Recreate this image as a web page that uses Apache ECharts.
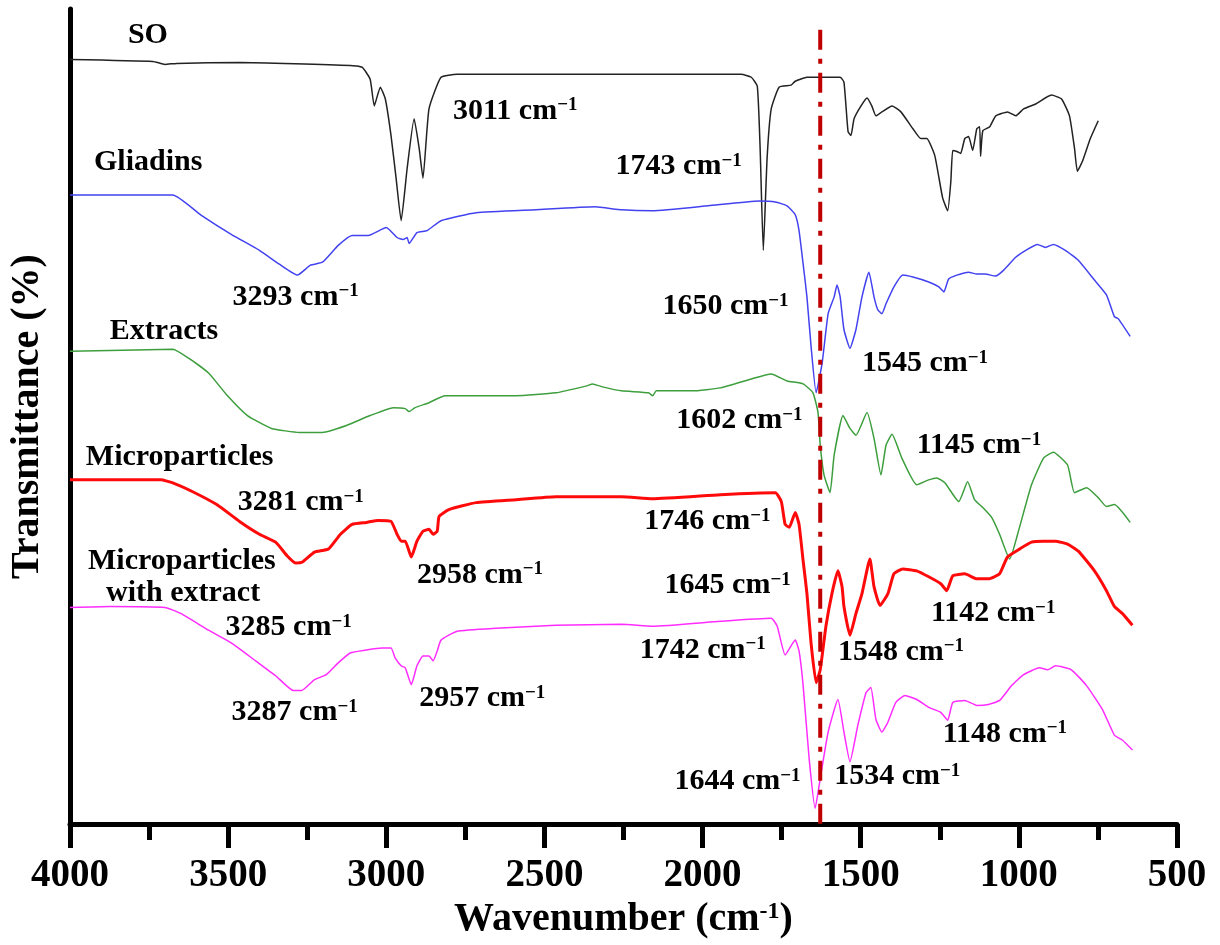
<!DOCTYPE html>
<html>
<head>
<meta charset="utf-8">
<title>FTIR spectra</title>
<script src="https://cdn.jsdelivr.net/npm/echarts@6/dist/echarts.min.js"></script>
<style>
    html, body { margin: 0; padding: 0; background: #fff; }
    #main { width: 1220px; height: 945px; }
</style>
</head>
<body>
<div id="main"></div>
<script>
// 波数 (cm-1) 与各条谱线的透过率 (任意单位, 已做纵向平移)
var soWn = [4000, 3738, 3700, 3663, 3464, 3114, 3076, 3051, 3038, 3019, 3003, 2985, 2969, 2953, 2934, 2912, 2896, 2884, 2865, 2827, 2776, 2477, 2161, 1878, 1846, 1827, 1818, 1808, 1796, 1783, 1758, 1720, 1707, 1670, 1565, 1553, 1540, 1531, 1521, 1499, 1480, 1465, 1452, 1433, 1401, 1373, 1335, 1310, 1291, 1266, 1241, 1225, 1215, 1209, 1196, 1184, 1171, 1159, 1146, 1133, 1124, 1121, 1114, 1092, 1073, 1036, 1010, 985, 947, 897, 865, 840, 824, 815, 799, 774, 749];
var soT = [773, 771, 768, 769, 770, 767, 765, 753, 726, 745, 733, 696, 653, 610, 663, 713, 683, 653, 723, 755, 758, 758, 758, 758, 755, 746, 683, 580, 673, 723, 745, 747, 751, 755, 755, 750, 700, 696, 713, 726, 734, 726, 716, 720, 726, 720, 703, 693, 693, 676, 633, 620, 650, 681, 680, 678, 693, 695, 681, 703, 705, 675, 701, 705, 716, 720, 716, 723, 728, 737, 733, 716, 683, 660, 670, 693, 711];

var glWn = [4000, 3675, 3587, 3489, 3401, 3338, 3281, 3240, 3202, 3152, 3108, 3057, 3000, 2966, 2947, 2934, 2928, 2903, 2871, 2827, 2716, 2527, 2341, 2256, 2158, 1982, 1821, 1770, 1733, 1707, 1695, 1682, 1670, 1657, 1641, 1622, 1603, 1584, 1575, 1565, 1553, 1534, 1515, 1496, 1474, 1458, 1446, 1433, 1420, 1395, 1367, 1335, 1285, 1253, 1237, 1222, 1196, 1159, 1133, 1108, 1073, 1048, 1010, 973, 941, 916, 891, 853, 812, 761, 723, 698, 686, 648];
var glT = [636, 636, 616, 596, 580, 566, 555, 565, 568, 585, 595, 595, 603, 593, 591, 593, 587, 598, 600, 610, 618, 621, 624, 621, 620, 625, 630, 629, 625, 616, 600, 566, 533, 483, 436, 466, 516, 533, 545, 533, 500, 481, 500, 533, 558, 533, 520, 516, 526, 543, 555, 553, 548, 543, 538, 551, 555, 558, 556, 556, 554, 560, 573, 581, 586, 583, 586, 580, 570, 550, 535, 513, 511, 493];

var exWn = [4000, 3675, 3625, 3562, 3502, 3439, 3363, 3275, 3202, 3126, 3051, 2978, 2940, 2928, 2909, 2865, 2814, 2716, 2590, 2464, 2366, 2348, 2316, 2256, 2171, 2158, 2146, 2032, 1944, 1846, 1783, 1733, 1682, 1651, 1635, 1628, 1616, 1597, 1584, 1556, 1534, 1515, 1480, 1458, 1436, 1420, 1401, 1370, 1323, 1285, 1260, 1234, 1190, 1162, 1140, 1114, 1086, 1061, 1029, 998, 960, 922, 891, 846, 824, 786, 749, 723, 698, 648];
var exT = [478, 480, 471, 456, 433, 413, 400, 396, 396, 403, 413, 421, 420, 417, 421, 426, 433, 433, 433, 436, 443, 445, 442, 438, 436, 433, 438, 438, 441, 450, 455, 448, 445, 436, 416, 383, 353, 335, 373, 413, 400, 393, 416, 390, 353, 383, 394, 370, 343, 348, 350, 345, 326, 346, 328, 320, 310, 293, 268, 300, 343, 370, 376, 363, 335, 340, 330, 321, 323, 305];

var mpWn = [4000, 3713, 3675, 3612, 3536, 3464, 3401, 3350, 3313, 3287, 3265, 3227, 3183, 3145, 3108, 3063, 3026, 2985, 2966, 2953, 2940, 2921, 2903, 2884, 2865, 2852, 2839, 2833, 2802, 2716, 2590, 2464, 2256, 2158, 1944, 1770, 1751, 1739, 1726, 1707, 1695, 1682, 1670, 1657, 1641, 1628, 1610, 1591, 1572, 1559, 1553, 1534, 1515, 1496, 1471, 1458, 1439, 1414, 1395, 1367, 1323, 1285, 1247, 1228, 1209, 1171, 1133, 1096, 1061, 1036, 998, 960, 922, 884, 846, 812, 761, 723, 698, 673, 641];
var mpT = [348, 348, 345, 336, 323, 306, 293, 285, 271, 264, 265, 275, 278, 293, 303, 305, 307, 306, 293, 286, 286, 270, 286, 296, 298, 293, 296, 311, 318, 325, 328, 331, 331, 329, 333, 335, 326, 303, 300, 315, 303, 266, 233, 183, 143, 156, 200, 233, 256, 240, 220, 191, 213, 233, 268, 240, 221, 233, 253, 258, 256, 250, 243, 236, 251, 253, 248, 248, 253, 270, 278, 285, 286, 286, 283, 276, 256, 236, 220, 213, 201];

var meWn = [4000, 3874, 3700, 3650, 3562, 3489, 3413, 3350, 3294, 3268, 3227, 3190, 3152, 3114, 3063, 3013, 2985, 2972, 2953, 2940, 2921, 2903, 2884, 2865, 2852, 2839, 2827, 2776, 2653, 2464, 2256, 2158, 1944, 1783, 1764, 1739, 1707, 1695, 1682, 1663, 1644, 1628, 1603, 1572, 1553, 1534, 1509, 1483, 1468, 1452, 1433, 1414, 1389, 1360, 1323, 1285, 1247, 1225, 1209, 1171, 1133, 1096, 1061, 1023, 985, 935, 909, 884, 834, 786, 736, 698, 673, 641];
var meT = [219, 220, 219, 213, 196, 183, 165, 150, 135, 135, 146, 151, 163, 173, 176, 178, 178, 168, 160, 158, 141, 160, 170, 170, 165, 175, 186, 195, 198, 201, 202, 200, 205, 208, 200, 171, 186, 175, 140, 66, 16, 46, 93, 126, 93, 63, 100, 133, 138, 106, 93, 103, 123, 130, 126, 118, 113, 105, 123, 125, 120, 121, 125, 140, 151, 158, 156, 160, 156, 140, 116, 90, 85, 75];

// 1645 cm-1 参考线
var refWn = [1628, 1628];
var refT = [803, -7];

// 标注文字
var noteText = ['SO', '3011', '1743', 'Gliadins', '3293', 'Extracts', '1650', '1545', '1602', '1145',
    'Microparticles', '3281', 'Microparticles', 'with extract', '2958', '1746', '1645', '1142',
    '3285', '1742', '1548', '3287', '2957', '1148', '1644', '1534'];
var noteWn = [3817, 2789, 2275, 3924, 3486, 3874, 2127, 1496, 2083, 1323,
    3950, 3470, 3943, 3886, 2903, 2184, 2120, 1278,
    3508, 2199, 1572, 3489, 2896, 1241, 2089, 1584];
var noteT = [797, 721, 665, 669, 533, 498, 523, 466, 408, 383,
    371, 325, 266, 233, 252, 306, 241, 213,
    199, 176, 174, 113, 127, 91, 43, 48];

var serif = 'Liberation Serif';

function zip(xs, ys) {
    var out = [];
    for (var i = 0; i < xs.length; i++) out.push([xs[i], ys[i]]);
    return out;
}

var notes = [];
for (var i = 0; i < noteText.length; i++) {
    notes.push({ name: noteText[i], value: [noteWn[i], noteT[i]] });
}

function spectrum(name, xs, ys, color, width) {
    return {
        name: name,
        type: 'line',
        data: zip(xs, ys),
        symbol: 'none',
        smooth: 0.15,
        lineStyle: { color: color, width: width },
        z: 3
    };
}

var myChart = echarts.init(document.getElementById('main'));

var option = {
    animation: false,
    backgroundColor: '#fff',
    grid: { left: 67, right: 43, top: 9, bottom: 112 },
    xAxis: {
        type: 'value',
        inverse: true,
        min: 500,
        max: 4000,
        interval: 500,
        name: '{a|Wavenumber (cm}{b|-1}{a|)}',
        nameLocation: 'middle',
        nameGap: 64,
        nameTextStyle: {
            rich: {
                a: { fontFamily: serif, fontWeight: 'bold', fontSize: 40, color: '#000', lineHeight: 40 },
                b: { fontFamily: serif, fontWeight: 'bold', fontSize: 24, color: '#000', verticalAlign: 'top' }
            }
        },
        axisLine: { lineStyle: { color: '#000', width: 5 } },
        axisTick: { show: true, length: 24, lineStyle: { color: '#000', width: 5 } },
        minorTick: { show: true, splitNumber: 2, length: 16, lineStyle: { color: '#000', width: 5 } },
        axisLabel: {
            fontFamily: serif, fontWeight: 'bold', fontSize: 39, color: '#000', margin: 32,
            formatter: function (v) { return String(v); }
        },
        splitLine: { show: false }
    },
    yAxis: {
        type: 'value',
        min: 0,
        max: 824,
        name: 'Transmittance (%)',
        nameLocation: 'middle',
        nameGap: 22,
        nameTextStyle: { fontFamily: serif, fontWeight: 'bold', fontSize: 40, color: '#000' },
        axisLine: { show: true, lineStyle: { color: '#000', width: 5 } },
        axisTick: { show: false },
        axisLabel: { show: false },
        splitLine: { show: false }
    },
    series: [
        spectrum('SO', soWn, soT, '#222222', 1.5),
        spectrum('Gliadins', glWn, glT, '#4242f0', 1.5),
        spectrum('Extracts', exWn, exT, '#3d9e3d', 1.5),
        spectrum('Microparticles', mpWn, mpT, '#ff0a0a', 3),
        spectrum('Microparticles with extract', meWn, meT, '#ff2cff', 1.5),
        {
            name: 'ref',
            type: 'line',
            data: zip(refWn, refT),
            symbol: 'none',
            clip: false,
            lineStyle: { color: '#c00000', width: 4, type: [20, 9, 5, 9] },
            z: 4
        },
        {
            name: 'notes',
            type: 'scatter',
            data: notes,
            symbolSize: 0,
            silent: true,
            z: 5,
            itemStyle: { opacity: 1 },
            label: {
                show: true,
                color: '#000',
                opacity: 1,
                position: [0, 0],
                align: 'left',
                verticalAlign: 'middle',
                formatter: function (p) {
                    if (/^\d+$/.test(p.name)) {
                        return '{a|' + p.name + ' cm}{b|\u22121}';
                    }
                    return '{a|' + p.name + '}';
                },
                rich: {
                    a: { fontFamily: serif, fontWeight: 'bold', fontSize: 30, color: '#000', lineHeight: 30 },
                    b: { fontFamily: serif, fontWeight: 'bold', fontSize: 19, color: '#000', verticalAlign: 'top' }
                }
            }
        }
    ]
};

myChart.setOption(option);
</script>
</body>
</html>
